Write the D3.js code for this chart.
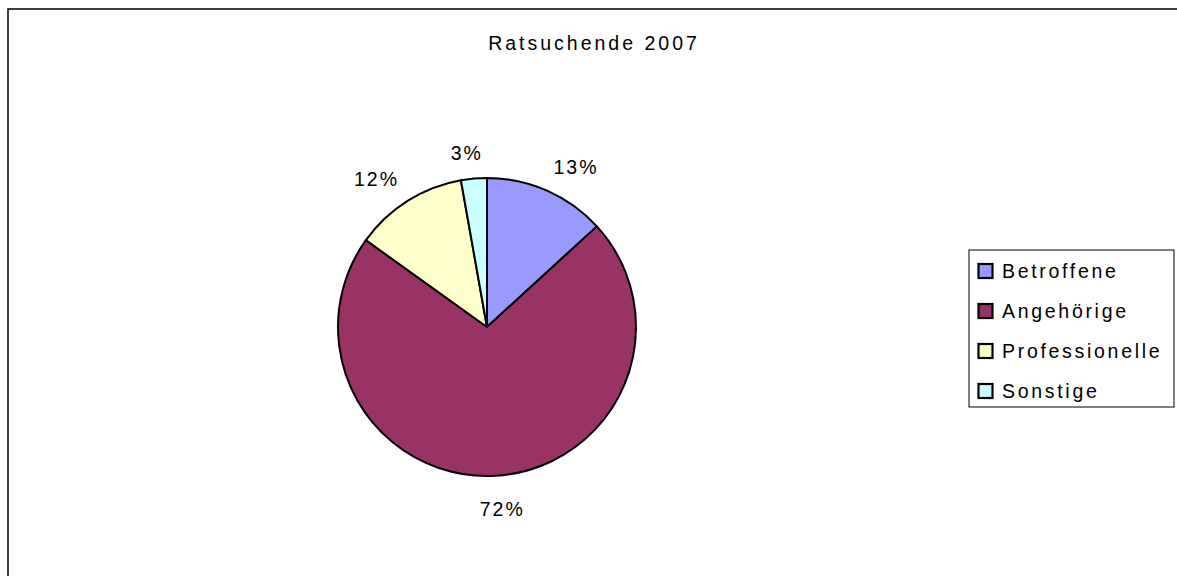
<!DOCTYPE html>
<html>
<head>
<meta charset="utf-8">
<script src="https://cdn.jsdelivr.net/npm/d3@7"></script>
<style>
  html, body { margin: 0; padding: 0; background: #fff; }
  text { font-family: "Liberation Sans", Arial, sans-serif; fill: #000; }
</style>
</head>
<body>
<div id="chart"></div>
<script>
"use strict";

// data
var categories = ["Betroffene", "Angehörige", "Professionelle", "Sonstige"];
var shares = [13.2, 71.7, 12.3, 2.8];
var colours = ["#9999ff", "#993366", "#ffffcc", "#ccffff"];
var title = "Ratsuchende 2007";

var width = 1177, height = 576;
var cx = 487, cy = 327, radius = 149;

var svg = d3.select("#chart")
  .append("svg")
    .attr("width", width)
    .attr("height", height);

// chart frame (runs off the right and bottom edges)
svg.append("rect")
  .attr("x", 8)
  .attr("y", 9)
  .attr("width", width + 10)
  .attr("height", height + 10)
  .style("fill", "#fff")
  .style("stroke", "#000")
  .style("stroke-width", 1.5);

svg.append("text")
  .attr("x", 594)
  .attr("y", 50)
  .attr("text-anchor", "middle")
  .style("font-size", "19.5px")
  .style("letter-spacing", "3px")
  .text(title);

var colour = d3.scaleOrdinal()
  .domain(categories)
  .range(colours);

var data = categories.map(function(c, i) {
  return { name: c, value: shares[i] };
});

var pie = d3.pie()
  .value(d => d.value)
  .sort(null);

var arc = d3.arc()
  .innerRadius(0)
  .outerRadius(radius);

var arcs = pie(data);

var g = svg.append("g")
  .attr("transform", "translate(" + cx + "," + cy + ")");

g.selectAll("path")
  .data(arcs)
  .join("path")
    .attr("d", arc)
    .style("fill", d => colour(d.data.name))
    .style("stroke", "#000")
    .style("stroke-width", 2)
    .style("stroke-linejoin", "round");

// percentage labels, pushed outward from the rim like Excel does
var labelR = 165;
var labels = g.selectAll("text.pct")
  .data(arcs)
  .join("text")
    .attr("class", "pct")
    .attr("text-anchor", "middle")
    .style("font-size", "19.5px")
    .style("letter-spacing", "2px")
    .text(d => Math.round(d.data.value) + "%");

labels.each(function(d) {
  var a = (d.startAngle + d.endAngle) / 2;
  var s = Math.sin(a), c = Math.cos(a);
  var w = this.getComputedTextLength();
  var h = 14;
  var k = Math.max(-1, Math.min(1, s * 4));
  var x = labelR * s + k * w / 2;
  var extra = c < 0 ? 10 : 3;
  var y = -c * (labelR + h / 2 + extra) + h / 2;
  d3.select(this).attr("x", x).attr("y", y);
});

// legend
var legend = svg.append("g")
  .attr("transform", "translate(969,250)");

legend.append("rect")
  .attr("width", 205)
  .attr("height", 157)
  .style("fill", "#fff")
  .style("stroke", "#000")
  .style("stroke-width", 1);

legend.selectAll("rect.swatch")
  .data(categories)
  .join("rect")
    .attr("class", "swatch")
    .attr("x", 9.5)
    .attr("y", (d, i) => 14 + 40 * i)
    .attr("width", 14)
    .attr("height", 14)
    .style("fill", d => colour(d))
    .style("stroke", "#000")
    .style("stroke-width", 2.2);

legend.selectAll("text")
  .data(categories)
  .join("text")
    .attr("x", 33)
    .attr("y", (d, i) => 27.5 + 40 * i)
    .style("font-size", "19.5px")
    .style("letter-spacing", "2.7px")
    .text(d => d);
</script>
</body>
</html>
